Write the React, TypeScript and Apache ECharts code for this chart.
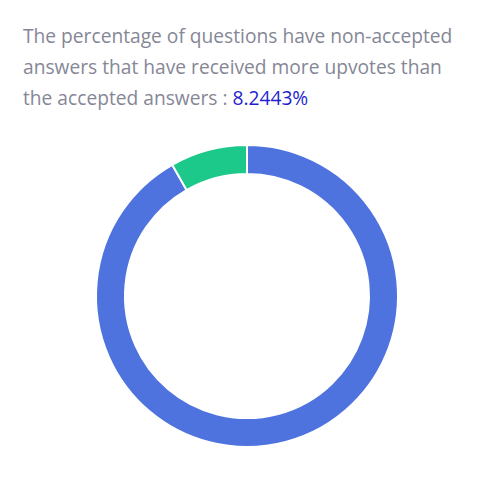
import React, { useEffect, useRef } from "react";
import * as echarts from "echarts";

const categories = ["Accepted answer most upvoted", "Non-accepted answer more upvoted"];
const values = [91.7557, 8.2443];
const colors = ["#4e73df", "#1cc88a"];
const titleLines = [
  "The percentage of questions have non-accepted",
  "answers that have received more upvotes than",
  "the accepted answers : ",
];

export default function App() {
  const ref = useRef<HTMLDivElement>(null);
  useEffect(() => {
    if (!ref.current) return;
    const chart = echarts.init(ref.current, null, { renderer: "svg" });
    chart.setOption({
      animation: false,
      backgroundColor: "transparent",
      title: {
        left: 18,
        top: 15,
        text: titleLines.join("\n") + "{v|" + values[1].toFixed(4) + "%}",
        textStyle: {
          fontFamily: "Open Sans",
          fontSize: 19.2,
          fontWeight: "normal",
          color: "#858796",
          lineHeight: 31,
          rich: {
            v: { color: "#1f1fd0", fontFamily: "Open Sans", fontSize: 19.2, lineHeight: 31 },
          },
        },
      },
      series: [
        {
          type: "pie",
          center: [247, 296],
          radius: [122, 151],
          startAngle: 90,
          clockwise: true,
          silent: true,
          label: { show: false },
          labelLine: { show: false },
          itemStyle: { borderColor: "#ffffff", borderWidth: 2 },
          data: categories.map((c, i) => ({
            name: c,
            value: values[i],
            itemStyle: { color: colors[i] },
          })),
        },
      ],
    });
    return () => chart.dispose();
  }, []);
  return (
    <div style={{ width: 499, height: 486, background: "#f4f5f8", position: "relative", margin: -8 }}>
      <div
        style={{
          position: "absolute",
          left: 0,
          top: 0,
          width: 492,
          height: 483,
          background: "#ffffff",
          borderRight: "1px solid #e3e6f0",
          borderBottom: "1px solid #e3e6f0",
        }}
      >
        <div ref={ref} style={{ width: 492, height: 483 }} />
      </div>
    </div>
  );
}
